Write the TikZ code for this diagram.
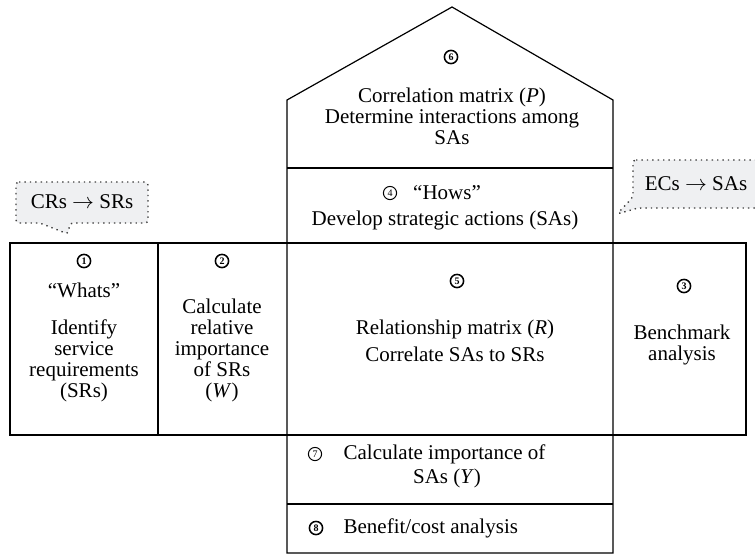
\documentclass[tikz,border=0pt]{standalone}
\usepackage{fontspec}
\setmainfont{Liberation Serif}
\definecolor{bubblegray}{RGB}{239,240,242}
\tikzset{
    num/.style={draw, circle, line width=0.75pt, inner sep=0pt, minimum size=6.6pt,
        font=\fontsize{5}{5}\selectfont\bfseries},
    numlight/.style={num, line width=0.5pt, font=\fontsize{5}{5}\selectfont},
    txt/.style={align=center, inner sep=0pt, font=\fontsize{10.5}{10.5}\selectfont},
    bubble/.style={draw=black!75, dotted, line width=0.7pt, fill=bubblegray, rounded corners=1.5pt}
}
\begin{document}
\begin{tikzpicture}[x=0.5pt, y=-0.5pt, line width=0.6pt]
        \useasboundingbox (0, 0) rectangle (755, 554);
        \coordinate (apex) at (452, 7);
        \coordinate (eaveL) at (287, 100);
        \coordinate (eaveR) at (613, 100);
        \coordinate (baseL) at (287, 553);
        \coordinate (baseR) at (613, 553);
        \coordinate (crtip) at (68, 234);
        \coordinate (ectip) at (617, 214);
        \draw (eaveL) -- (apex) -- (eaveR) -- (baseR) -- (baseL) -- cycle;
        \draw (287, 168) -- (613, 168);
        \draw (10, 243) rectangle (746, 435);
        \draw (158, 243) -- (158, 435);
        \draw (287, 504) -- (613, 504);
        \draw[bubble] (16, 182) -- (148, 182) -- (148, 223) -- (70, 223) -- (crtip)
            -- (40, 223) -- (16, 223) -- cycle;
        \draw[bubble] (633, 160) -- (770, 160) -- (770, 208) -- (638, 208) -- (ectip)
            -- (633, 197) -- cycle;
        \node[txt] (crs) at (82, 202) {CRs $\rightarrow$ SRs};
        \node[txt] (ecs) at (696, 184) {ECs $\rightarrow$ SAs};
        \node[num] (n6) at (451, 57) {6};
        \node[txt] (corr) at (452, 116) {Correlation matrix (\textit{P})\\Determine interactions among\\SAs};
        \node[numlight] (n4) at (390, 193) {4};
        \node[txt] (hows) at (447, 193) {``Hows''};
        \node[txt] (sas) at (445, 220) {Develop strategic actions (SAs)};
        \node[num] (n1) at (84, 261) {1};
        \node[txt] (whats) at (84, 342) {``Whats''\\[8pt]Identify\\service\\requirements\\(SRs)};
        \node[num] (n2) at (222, 261) {2};
        \node[txt] (weight) at (222, 350) {Calculate\\relative\\importance\\of SRs\\(\textit{W})};
        \node[num] (n5) at (457, 281) {5};
        \node[txt] (rel) at (455, 341) {Relationship matrix (\textit{R})\\[3pt]Correlate SAs to SRs};
        \node[num] (n3) at (684, 286) {3};
        \node[txt] (bench) at (682, 345) {Benchmark\\analysis};
        \node[numlight] (n7) at (315, 454) {7};
        \node[txt, anchor=west] (imp) at (343, 454) {Calculate importance of};
        \node[txt] (impy) at (447, 478) {SAs (\textit{Y})};
        \node[num] (n8) at (316, 528) {8};
        \node[txt, anchor=west] (cost) at (343, 528) {Benefit/cost analysis};
\end{tikzpicture}
\end{document}
